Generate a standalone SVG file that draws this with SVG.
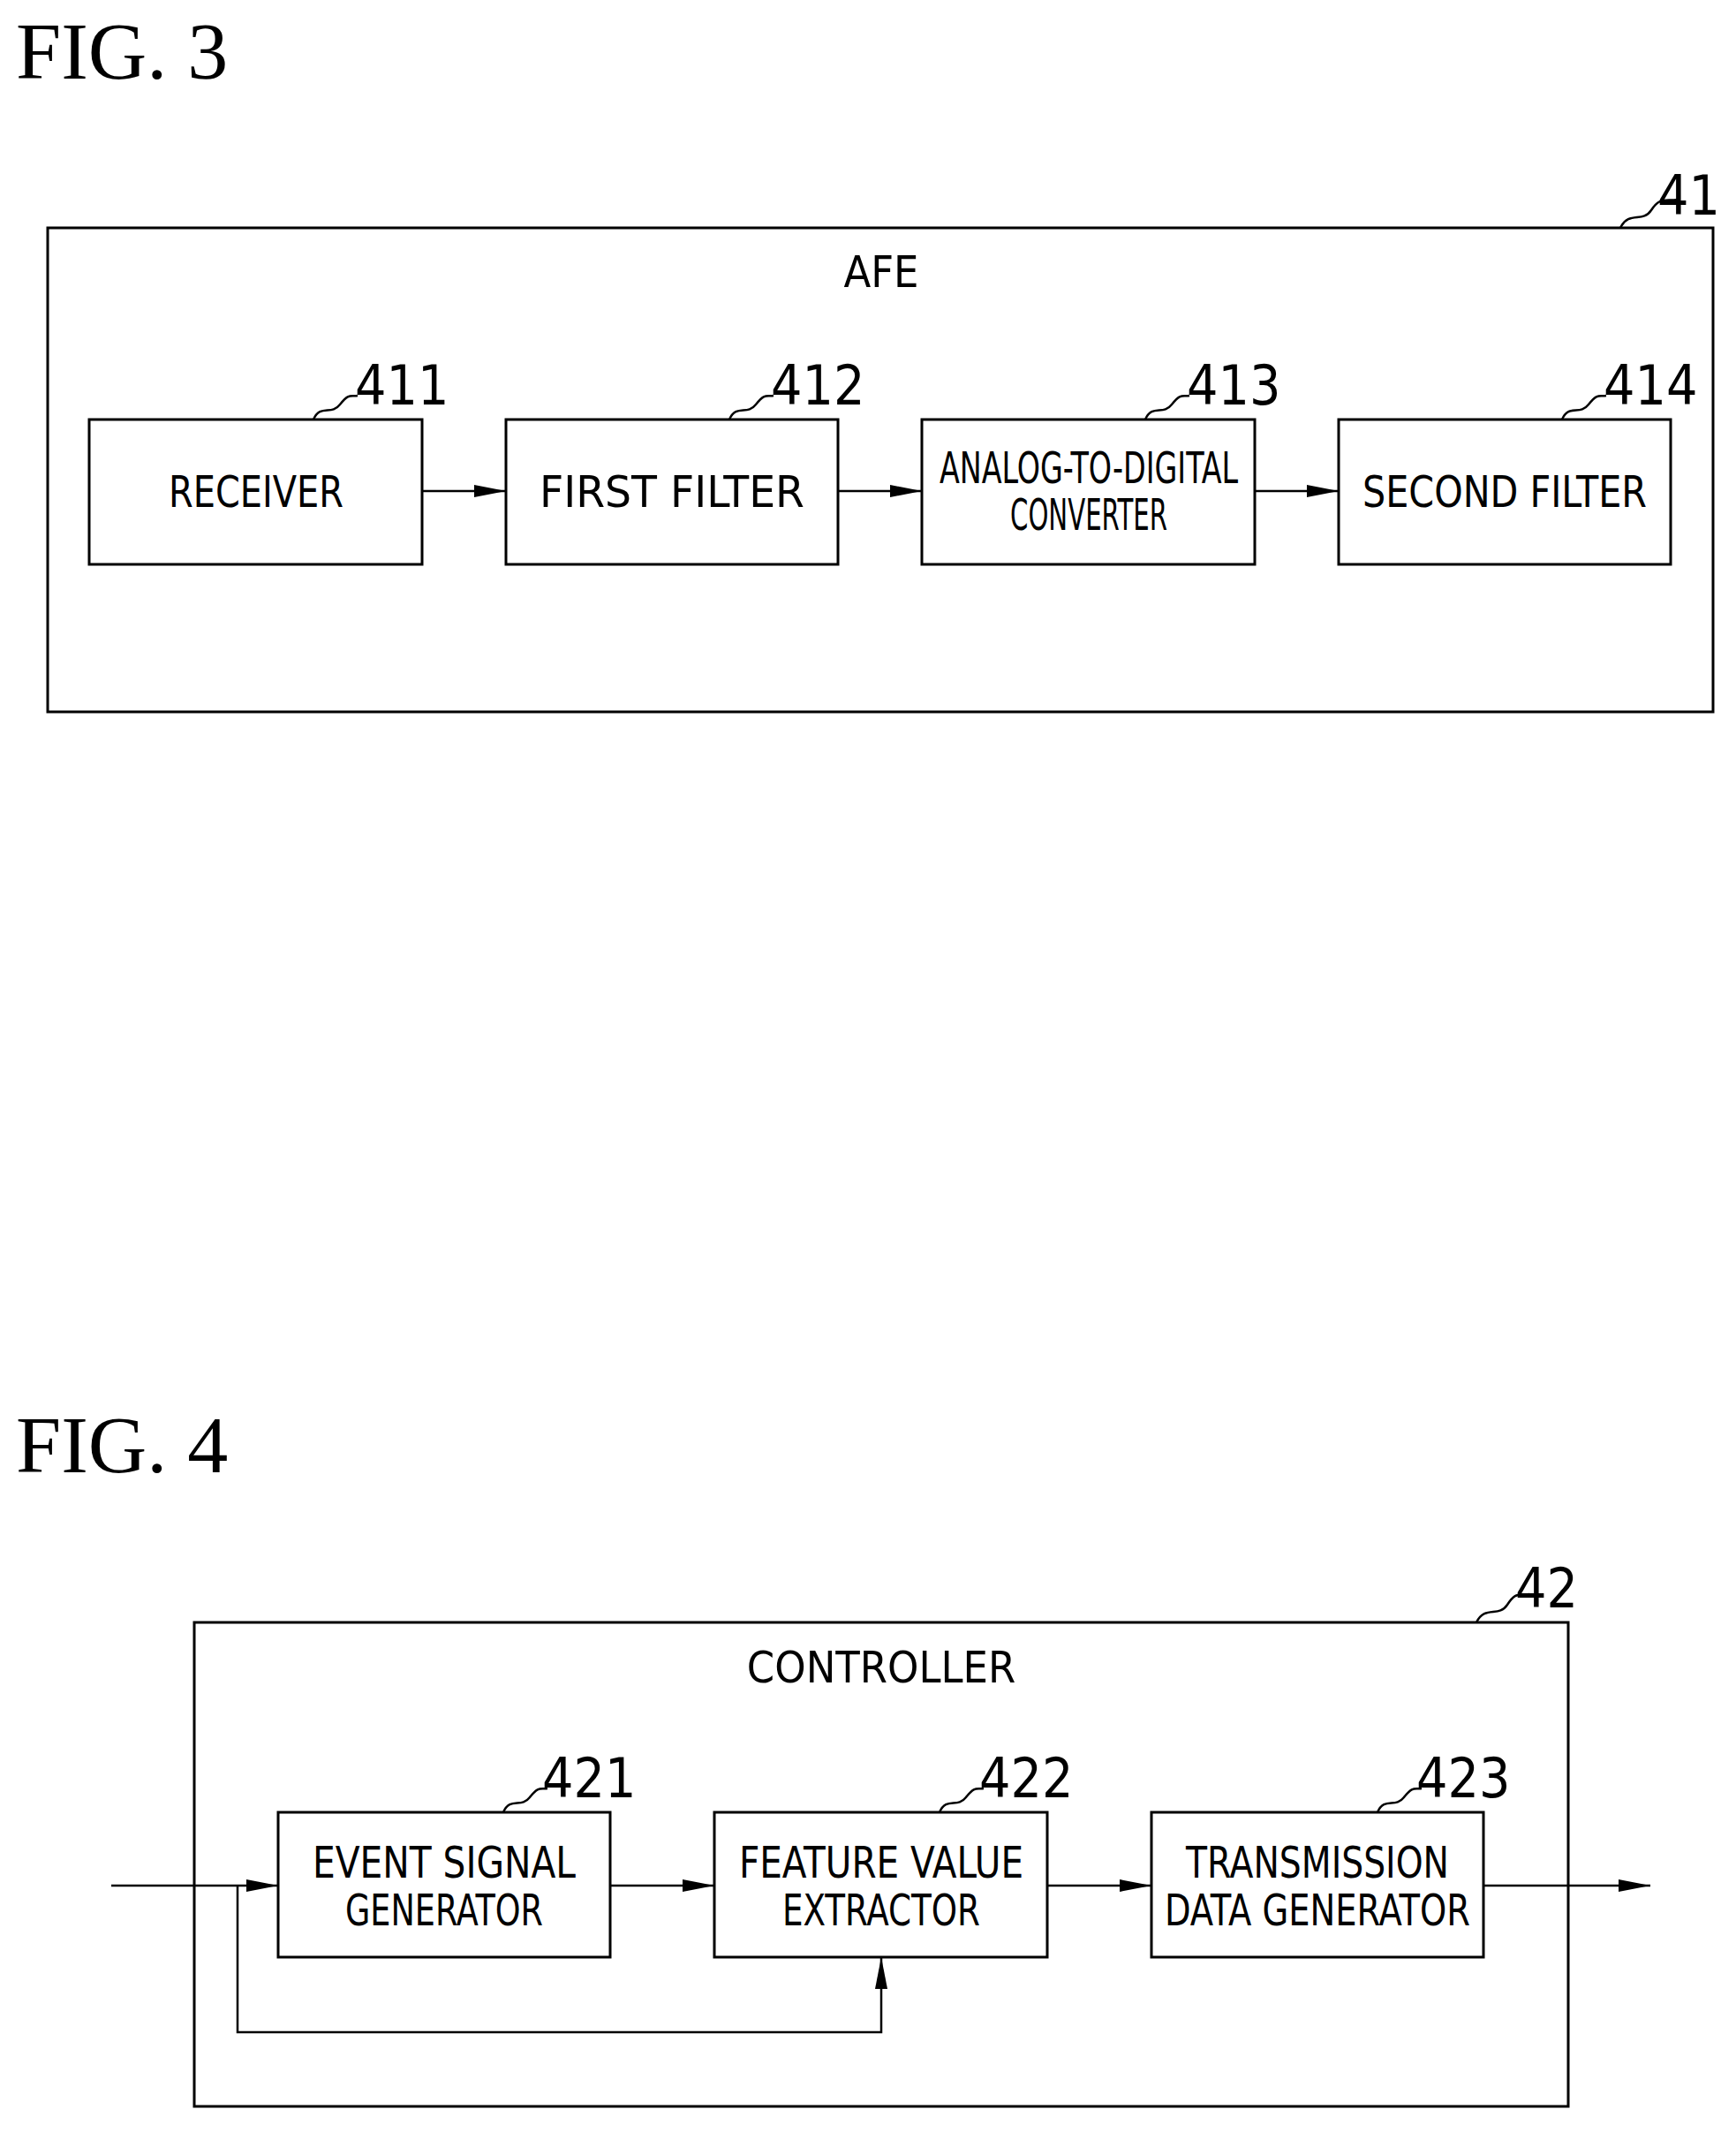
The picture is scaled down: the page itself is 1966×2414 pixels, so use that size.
<svg xmlns="http://www.w3.org/2000/svg" width="1966" height="2414" viewBox="0 0 1966 2414">
<style>
.b{fill:none;stroke:#000;stroke-width:3}
.l{fill:none;stroke:#000;stroke-width:2.5}
.t{font-family:"DejaVu Sans Condensed","DejaVu Sans",sans-serif;font-size:50px;text-anchor:middle}
.n{font-family:"DejaVu Sans Condensed","DejaVu Sans",sans-serif;font-size:62px}
.f{font-family:"Liberation Serif",serif;font-size:92px}
</style>
<defs><marker id="a" viewBox="0 0 12 8" refX="12" refY="4" markerWidth="12" markerHeight="8" markerUnits="userSpaceOnUse" orient="auto"><path d="M0,0L12,4L0,8z"/></marker>
<marker id="A" viewBox="0 0 36 14" refX="36" refY="7" markerWidth="36" markerHeight="14" markerUnits="userSpaceOnUse" orient="auto"><path d="M0,0L36,7L0,14z"/></marker></defs>
<text class="f" x="18" y="89">FIG. 3</text>
<g id="n41"><rect class="b" x="54" y="258" width="1886" height="548"/><text class="t" x="998" y="325">AFE</text><path class="l" d="M1835,258c10,-20 25,-5 35,-20s15,-10 30,-12"/><text class="n" x="1877" y="243">41</text></g>
<g id="n411"><rect class="b" x="101" y="475" width="377" height="164"/><text class="t" x="290" y="574" textLength="198" lengthAdjust="spacingAndGlyphs">RECEIVER</text><path class="l" d="M355,475c8,-18 20,-4 30,-17s12,-9 20,-10"/><text class="n" x="402" y="458">411</text></g>
<g id="n412"><rect class="b" x="573" y="475" width="376" height="164"/><text class="t" x="761" y="574" textLength="300" lengthAdjust="spacingAndGlyphs">FIRST FILTER</text><path class="l" d="M826,475c8,-18 20,-4 30,-17s12,-9 20,-10"/><text class="n" x="873" y="458">412</text></g>
<g id="n413"><rect class="b" x="1044" y="475" width="377" height="164"/><text class="t" x="1233" y="547" textLength="338" lengthAdjust="spacingAndGlyphs">ANALOG-TO-DIGITAL</text><text class="t" x="1233" y="600" textLength="178" lengthAdjust="spacingAndGlyphs">CONVERTER</text><path class="l" d="M1297,475c8,-18 20,-4 30,-17s12,-9 20,-10"/><text class="n" x="1344" y="458">413</text></g>
<g id="n414"><rect class="b" x="1516" y="475" width="376" height="164"/><text class="t" x="1704" y="574" textLength="322" lengthAdjust="spacingAndGlyphs">SECOND FILTER</text><path class="l" d="M1769,475c8,-18 20,-4 30,-17s12,-9 20,-10"/><text class="n" x="1816" y="458">414</text></g>
<text class="f" x="18" y="1667">FIG. 4</text>
<g id="n42"><rect class="b" x="220" y="1837" width="1556" height="548"/><text class="t" x="998" y="1905">CONTROLLER</text><path class="l" d="M1672,1837c10,-20 25,-5 35,-20s12,-10 25,-12"/><text class="n" x="1716" y="1820">42</text></g>
<g id="n421"><rect class="b" x="315" y="2052" width="376" height="164"/><text class="t" x="503" y="2126" textLength="298" lengthAdjust="spacingAndGlyphs">EVENT SIGNAL</text><text class="t" x="503" y="2180" textLength="224" lengthAdjust="spacingAndGlyphs">GENERATOR</text><path class="l" d="M570,2052c8,-18 20,-4 30,-17s12,-9 20,-10"/><text class="n" x="614" y="2035">421</text></g>
<g id="n422"><rect class="b" x="809" y="2052" width="377" height="164"/><text class="t" x="998" y="2126" textLength="322" lengthAdjust="spacingAndGlyphs">FEATURE VALUE</text><text class="t" x="998" y="2180" textLength="224" lengthAdjust="spacingAndGlyphs">EXTRACTOR</text><path class="l" d="M1064,2052c8,-18 20,-4 30,-17s12,-9 20,-10"/><text class="n" x="1109" y="2035">422</text></g>
<g id="n423"><rect class="b" x="1304" y="2052" width="376" height="164"/><text class="t" x="1492" y="2126" textLength="298" lengthAdjust="spacingAndGlyphs">TRANSMISSION</text><text class="t" x="1492" y="2180" textLength="346" lengthAdjust="spacingAndGlyphs">DATA GENERATOR</text><path class="l" d="M1560,2052c8,-18 20,-4 30,-17s12,-9 20,-10"/><text class="n" x="1604" y="2035">423</text></g>
<g id="connectors" class="l">
<path d="M478,556H573" marker-end="url(#A)"/>
<path d="M949,556H1044" marker-end="url(#A)"/>
<path d="M1421,556H1516" marker-end="url(#A)"/>
<path d="M126,2135H315" marker-end="url(#A)"/>
<path d="M269,2135V2301H998V2216" marker-end="url(#A)"/>
<path d="M691,2135H809" marker-end="url(#A)"/>
<path d="M1186,2135H1304" marker-end="url(#A)"/>
<path d="M1680,2135H1869" marker-end="url(#A)"/>
</g>
</svg>
